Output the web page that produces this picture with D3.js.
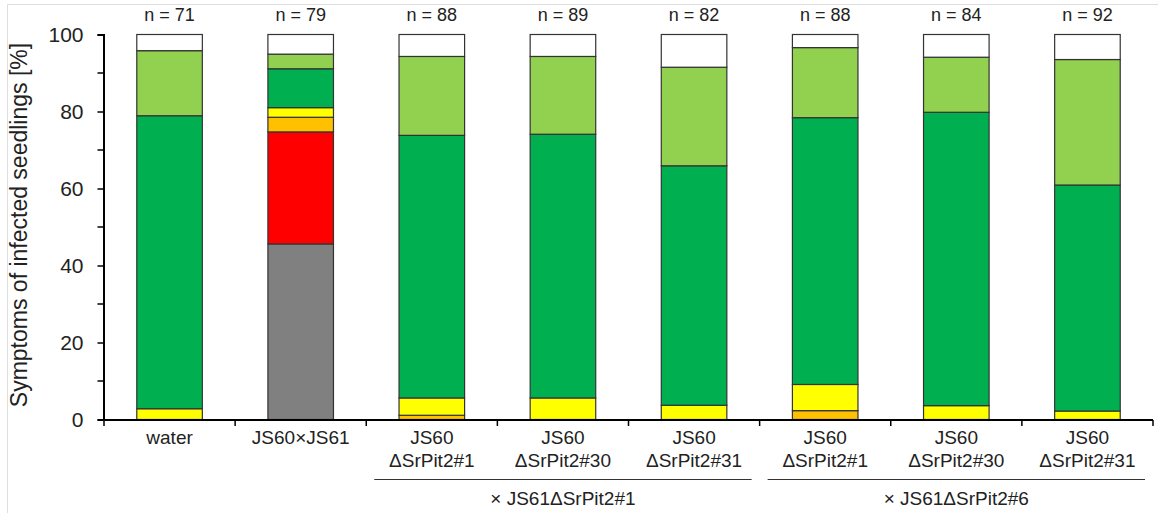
<!DOCTYPE html>
<html>
<head>
<meta charset="utf-8">
<script src="https://cdn.jsdelivr.net/npm/d3@7"></script>
<style>
  body { margin: 0; background: #fff; }
  svg { display: block; font-family: "Liberation Sans", Arial, sans-serif; }
</style>
</head>
<body>
<svg id="chart"></svg>
<script>
const width = 1158,
  height = 513;

// categories (two lines of label text)
const labelTop = ["water", "JS60×JS61", "JS60", "JS60", "JS60", "JS60", "JS60", "JS60"];
const labelBottom = ["", "", "ΔSrPit2#1", "ΔSrPit2#30", "ΔSrPit2#31", "ΔSrPit2#1", "ΔSrPit2#30", "ΔSrPit2#31"];
const nValues = [71, 79, 88, 89, 82, 88, 84, 92];

// stacked series, bottom to top, in % of seedlings
const gray = [0, 45.6, 0, 0, 0, 0, 0, 0];
const red = [0, 29.1, 0, 0, 0, 0, 0, 0];
const orange = [0, 3.8, 1.1, 0, 0, 2.3, 0, 0];
const yellow = [2.8, 2.5, 4.5, 5.6, 3.7, 6.8, 3.6, 2.2];
const darkGreen = [76.1, 10.1, 68.2, 68.5, 62.2, 69.3, 76.2, 58.7];
const lightGreen = [16.9, 3.8, 20.5, 20.2, 25.6, 18.2, 14.3, 32.6];
const white = [4.2, 5.1, 5.7, 5.7, 8.5, 3.4, 5.9, 6.5];

const yTicks = [0, 20, 40, 60, 80, 100];
const yMinorTicks = [10, 30, 50, 70, 90];

const groupLabels = ["× JS61ΔSrPit2#1", "× JS61ΔSrPit2#6"];
const groupStart = [2, 5];
const groupEnd = [4, 7];

const keys = ["gray", "red", "orange", "yellow", "darkGreen", "lightGreen", "white"];
const colors = {
  gray: "#808080",
  red: "#ff0000",
  orange: "#ffc000",
  yellow: "#ffff00",
  darkGreen: "#00b050",
  lightGreen: "#92d050",
  white: "#ffffff"
};
const seriesData = { gray, red, orange, yellow, darkGreen, lightGreen, white };

const table = labelTop.map((d, i) => {
  const row = { i };
  keys.forEach((k) => (row[k] = seriesData[k][i]));
  return row;
});

const svg = d3.select("#chart").attr("width", width).attr("height", height);

// light frame round the figure
svg.append("line").attr("x1", 7.5).attr("x2", width).attr("y1", 4.5).attr("y2", 4.5)
  .attr("stroke", "#dedede").attr("stroke-width", 1);
svg.append("line").attr("x1", 7.5).attr("x2", 7.5).attr("y1", 4.5).attr("y2", height)
  .attr("stroke", "#dedede").attr("stroke-width", 1);

const x = d3.scaleBand()
  .domain(d3.range(labelTop.length))
  .range([104, 1153])
  .paddingInner(0.5)
  .paddingOuter(0.25);

const y = d3.scaleLinear().domain([0, 100]).range([419.5, 34.5]);

const stacked = d3.stack().keys(keys)(table);

// bars
svg.append("g")
  .selectAll("g")
  .data(stacked)
  .join("g")
  .attr("fill", (s) => colors[s.key])
  .selectAll("rect")
  .data((s) => s.filter((d) => d[1] - d[0] > 0))
  .join("rect")
  .attr("x", (d) => x(d.data.i))
  .attr("width", x.bandwidth())
  .attr("y", (d) => y(d[1]))
  .attr("height", (d) => y(d[0]) - y(d[1]))
  .attr("stroke", "#333")
  .attr("stroke-width", 1.2);

// y axis
const yAxis = svg.append("g")
  .attr("transform", "translate(103.5,0)")
  .call(d3.axisLeft(y).tickValues(yTicks).tickSize(6).tickPadding(14));
yAxis.selectAll("text").attr("font-size", 21).attr("fill", "#222")
  .attr("font-family", "Liberation Sans, Arial, sans-serif");
yAxis.select(".domain").attr("stroke", "#000").attr("stroke-width", 2);
yAxis.selectAll(".tick line").attr("stroke", "#000").attr("stroke-width", 1.5);

svg.append("g")
  .selectAll("line")
  .data(yMinorTicks)
  .join("line")
  .attr("x1", 97.5).attr("x2", 103.5)
  .attr("y1", (d) => y(d)).attr("y2", (d) => y(d))
  .attr("stroke", "#000").attr("stroke-width", 1.5);

// x axis with ticks at category boundaries
const step = x.step();
const xStart = x.range()[0];
svg.append("line")
  .attr("x1", xStart - 1).attr("x2", x.range()[1])
  .attr("y1", 420).attr("y2", 420)
  .attr("stroke", "#000").attr("stroke-width", 2);
svg.append("g")
  .selectAll("line")
  .data(d3.range(labelTop.length + 1))
  .join("line")
  .attr("x1", (d) => xStart + d * step).attr("x2", (d) => xStart + d * step)
  .attr("y1", 420).attr("y2", 426)
  .attr("stroke", "#000").attr("stroke-width", 1.5);

// category labels
const cat = svg.append("g")
  .attr("font-size", 19)
  .attr("fill", "#222")
  .attr("text-anchor", "middle");
cat.selectAll("text.top")
  .data(labelTop)
  .join("text")
  .attr("class", "top")
  .attr("x", (d, i) => x(i) + x.bandwidth() / 2)
  .attr("y", 444)
  .text((d) => d);
cat.selectAll("text.bottom")
  .data(labelBottom)
  .join("text")
  .attr("class", "bottom")
  .attr("x", (d, i) => x(i) + x.bandwidth() / 2)
  .attr("y", 467)
  .text((d) => d);

// n labels
svg.append("g")
  .attr("font-size", 18)
  .attr("fill", "#222")
  .attr("text-anchor", "middle")
  .selectAll("text")
  .data(nValues)
  .join("text")
  .attr("x", (d, i) => x(i) + x.bandwidth() / 2)
  .attr("y", 21)
  .text((d) => "n = " + d);

// group brackets
const groups = svg.append("g");
groupLabels.forEach((label, g) => {
  const x0 = xStart + groupStart[g] * step + 8;
  const x1 = xStart + (groupEnd[g] + 1) * step - 8;
  groups.append("line")
    .attr("x1", x0).attr("x2", x1)
    .attr("y1", 479.5).attr("y2", 479.5)
    .attr("stroke", "#333").attr("stroke-width", 1.2);
  groups.append("text")
    .attr("x", (x0 + x1) / 2)
    .attr("y", 505)
    .attr("text-anchor", "middle")
    .attr("font-size", 19)
    .attr("fill", "#222")
    .text(label);
});

// y axis title
svg.append("text")
  .attr("transform", "translate(27,225) rotate(-90)")
  .attr("text-anchor", "middle")
  .attr("font-size", 23)
  .attr("fill", "#222")
  .text("Symptoms of infected seedlings [%]");
</script>
</body>
</html>
